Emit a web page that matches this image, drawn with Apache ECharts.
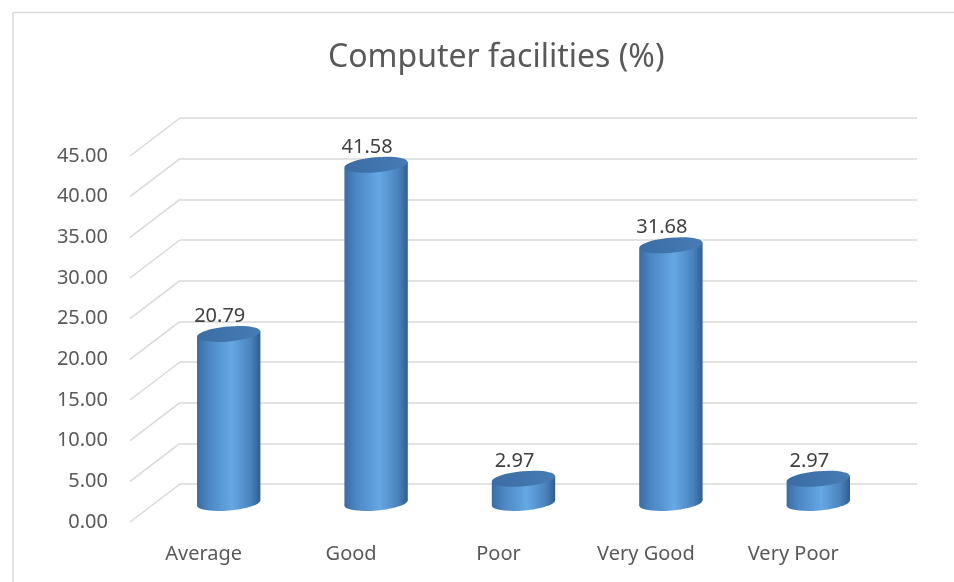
<!DOCTYPE html>
<html>
<head>
<meta charset="utf-8">
<script src="https://cdn.jsdelivr.net/npm/echarts@6/dist/echarts.min.js"></script>
<style>html,body{margin:0;padding:0;background:#fff}#c{width:954px;height:582px}</style>
</head>
<body>
<div id="c"></div>
<script>
var categories = ['Average', 'Good', 'Poor', 'Very Good', 'Very Poor'];
var values = [20.79, 41.58, 2.97, 31.68, 2.97];
var yTicks = [0, 5, 10, 15, 20, 25, 30, 35, 40, 45];
var titleText = 'Computer facilities (%)';

var FONT = "'Noto Sans', sans-serif";
var chart = echarts.init(document.getElementById('c'), null, {renderer: 'canvas'});

var DX = 50, DY = 38; // depth offset front -> back

function bodyGrad() {
  return new echarts.graphic.LinearGradient(0, 0, 1, 0, [
    {offset: 0, color: '#3a6ca2'},
    {offset: 0.18, color: '#4b86c3'},
    {offset: 0.55, color: '#65a8e4'},
    {offset: 0.85, color: '#4a82bd'},
    {offset: 1, color: '#2f5e8e'}
  ]);
}

var option = {
  animation: false,
  backgroundColor: '#ffffff',
  title: {
    text: titleText,
    left: 323,
    top: 37,
    textStyle: {fontFamily: FONT, fontSize: 32, fontWeight: 'normal', color: '#595959'}
  },
  graphic: [
    {type: 'line', shape: {x1: 13, y1: 12.5, x2: 954, y2: 12.5}, style: {stroke: '#d9d9d9', lineWidth: 1.5}, silent: true},
    {type: 'line', shape: {x1: 13, y1: 12.5, x2: 13, y2: 582}, style: {stroke: '#d9d9d9', lineWidth: 1.5}, silent: true}
  ],
  grid: [
    {left: 180, top: 118, width: 737, height: 366},
    {left: 130, top: 156, width: 737, height: 366},
    {left: 155, top: 137, width: 737, height: 366}
  ],
  xAxis: [
    {gridIndex: 0, type: 'category', data: categories, show: false},
    {gridIndex: 1, type: 'category', data: categories,
     axisLine: {show: false}, axisTick: {show: false},
     axisLabel: {margin: 22, fontFamily: FONT, fontSize: 20, color: '#595959'}},
    {gridIndex: 2, type: 'category', data: categories, show: false}
  ],
  yAxis: [
    {gridIndex: 0, type: 'value', min: 0, max: 45, interval: 5,
     axisLine: {show: false}, axisTick: {show: false}, axisLabel: {show: false},
     splitLine: {show: true, lineStyle: {color: '#d9d9d9', width: 1.5}}},
    {gridIndex: 1, type: 'value', min: 0, max: 45, interval: 5,
     axisLine: {show: false}, axisTick: {show: false}, splitLine: {show: false},
     axisLabel: {margin: 22, fontFamily: FONT, fontSize: 20, color: '#595959',
       formatter: function (v) { return v.toFixed(2); }}},
    {gridIndex: 2, type: 'value', min: 0, max: 45, interval: 5, show: false}
  ],
  series: [
    {
      type: 'custom', xAxisIndex: 1, yAxisIndex: 1, silent: true,
      data: yTicks.map(function (v) { return [0, v]; }),
      renderItem: function (params, api) {
        var p = api.coord([0, api.value(1)]);
        var x0 = params.coordSys.x;
        return {type: 'line', shape: {x1: x0, y1: p[1], x2: x0 + DX, y2: p[1] - DY},
          style: {stroke: '#d9d9d9', lineWidth: 1.5}};
      }
    },
    {
      type: 'custom', xAxisIndex: 2, yAxisIndex: 2, silent: true,
      data: values.map(function (v, i) { return [i, v]; }),
      renderItem: function (params, api) {
        var i = api.value(0), v = api.value(1);
        var base = api.coord([i, 0]);
        var top = api.coord([i, v]);
        var bw = api.size([1, 0])[0] * 0.43;
        var rx = bw / 2, ry = 7.5;
        var ang = 0.09;
        var t = rx * Math.sin(ang);
        var cx = base[0];
        return {
          type: 'group',
          children: [
            {type: 'ellipse', shape: {cx: cx, cy: base[1], rx: rx, ry: ry},
             rotation: ang, originX: cx, originY: base[1],
             style: {fill: bodyGrad()}},
            {type: 'polygon', shape: {points: [
               [cx - rx, top[1] + t], [cx + rx, top[1] - t],
               [cx + rx, base[1] - t], [cx - rx, base[1] + t]]},
             style: {fill: bodyGrad()}},
            {type: 'ellipse', shape: {cx: cx, cy: top[1], rx: rx, ry: ry},
             rotation: ang, originX: cx, originY: top[1],
             style: {fill: new echarts.graphic.LinearGradient(0, 0, 1, 0, [
               {offset: 0, color: '#3b6da4'}, {offset: 1, color: '#467bb4'}])}},
            {type: 'text', x: cx - 9, y: top[1] - 18,
             style: {text: v.toFixed(2), fill: '#404040', fontSize: 20, fontFamily: FONT,
               align: 'center', verticalAlign: 'middle'}}
          ]
        };
      }
    }
  ]
};
chart.setOption(option);
</script>
</body>
</html>
